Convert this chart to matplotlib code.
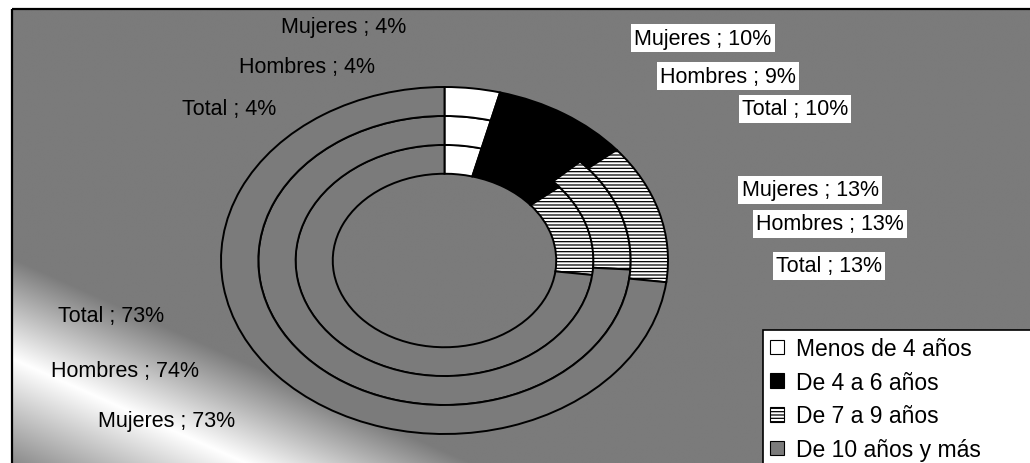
import matplotlib
matplotlib.use("Agg")
import matplotlib.pyplot as plt
import matplotlib.patches as mpatches
import numpy as np

plt.rcParams["font.family"] = ["Liberation Sans", "DejaVu Sans"]
plt.rcParams["hatch.linewidth"] = 0.9

# ── data ──────────────────────────────────────────────────────────────────────
categories = ["Menos de 4 años", "De 4 a 6 años", "De 7 a 9 años", "De 10 años y más"]
series = ["Total", "Hombres", "Mujeres"]          # inner ring -> outer ring
total = [4, 10, 13, 73]
hombres = [4, 9, 13, 74]
mujeres = [4, 10, 13, 73]

# ── styles / layout ───────────────────────────────────────────────────────────
BG = "#7b7b7b"
colors = ["white", "black", "white", BG]
hatches = [None, None, "-----", None]
boxed = [False, True, True, False]

W, H = 1030, 464
CX, CY, RX, RY = 444.5, 261.5, 223.5, 173.5   # ellipse centre / radii in px
radii = [0.667, 0.833, 1.0]
ring_w = 0.167

# label positions (pixel coords, centre of text), per series, per category
label_pos = {
    "Mujeres": [(344, 27), (703, 39), (810, 191), (167, 422)],
    "Hombres": [(307, 68), (728, 77), (830, 225), (125, 372)],
    "Total":   [(229, 110), (795, 110), (829, 267), (111, 317)],
}

fig = plt.figure(figsize=(W / 100, H / 100), dpi=100)
fig.patch.set_facecolor("white")

# background axes in pixel coordinates
bg = fig.add_axes([0, 0, 1, 1])
bg.axis("off")

# grey plot area with a white diagonal streak in the lower-left corner
x0, y0 = 12, 10
gx, gy = np.meshgrid(np.linspace(x0, W + 20, 700), np.linspace(y0, H + 5, 320))
t = (gx - x0) / 1025 + (468 - gy) / 458
d = t - 0.235
f = np.where(d < 0, 1 + d / 0.26, 1 - d / 0.22)
f = np.clip(f, 0, 1)
g0 = 123 / 255
val = g0 + (1 - g0) * f
img = np.dstack([val, val, val])
bg.imshow(img, extent=(x0, W + 20, H + 5, y0), interpolation="bilinear",
          aspect="auto", zorder=0)
bg.add_patch(mpatches.Rectangle((x0, y0), W + 50, H + 50, fill=False,
                                edgecolor="black", lw=1.6, zorder=1))
bg.set_xlim(0, W)
bg.set_ylim(H, 0)

# data labels
for name, vals in zip(series, [total, hombres, mujeres]):
    for (x, y), v, b in zip(label_pos[name], vals, boxed):
        kw = {}
        if b:
            kw["bbox"] = dict(boxstyle="square,pad=0.15", facecolor="white",
                              edgecolor="none")
        bg.text(x, y, f"{name} ; {v}%", ha="center", va="center",
                fontsize=15.5, color="black", zorder=3, **kw)

# doughnut rings
ax = fig.add_axes([0, 0, 1, 1])
for vals, r in zip([total, hombres, mujeres], radii):
    wedges, _ = ax.pie(vals, radius=r, colors=colors, startangle=90,
                       counterclock=False,
                       wedgeprops=dict(width=ring_w, edgecolor="black", linewidth=1.4))
    for w, h in zip(wedges, hatches):
        if h:
            w.set_hatch(h)
ax.set_aspect("auto")
ax.set_xlim(-CX / RX, (W - CX) / RX)
ax.set_ylim(-(H - CY) / RY, CY / RY)
ax.patch.set_alpha(0)

# legend
handles = [mpatches.Patch(facecolor=c, edgecolor="black", hatch=h, linewidth=0.8)
           for c, h in zip(colors, hatches)]
leg = fig.legend(handles, categories, loc="upper left",
                 bbox_to_anchor=(763 / W, 1 - 331 / H - 0.3, 320 / W, 0.3),
                 mode="expand", borderaxespad=0, fontsize=16.5,
                 handlelength=0.6, handleheight=0.6, handletextpad=0.55,
                 labelspacing=0.47, borderpad=0.3, fancybox=False,
                 framealpha=1, facecolor="white", edgecolor="black")
leg.get_frame().set_linewidth(1.2)

fig.savefig("out.png", dpi=100)
